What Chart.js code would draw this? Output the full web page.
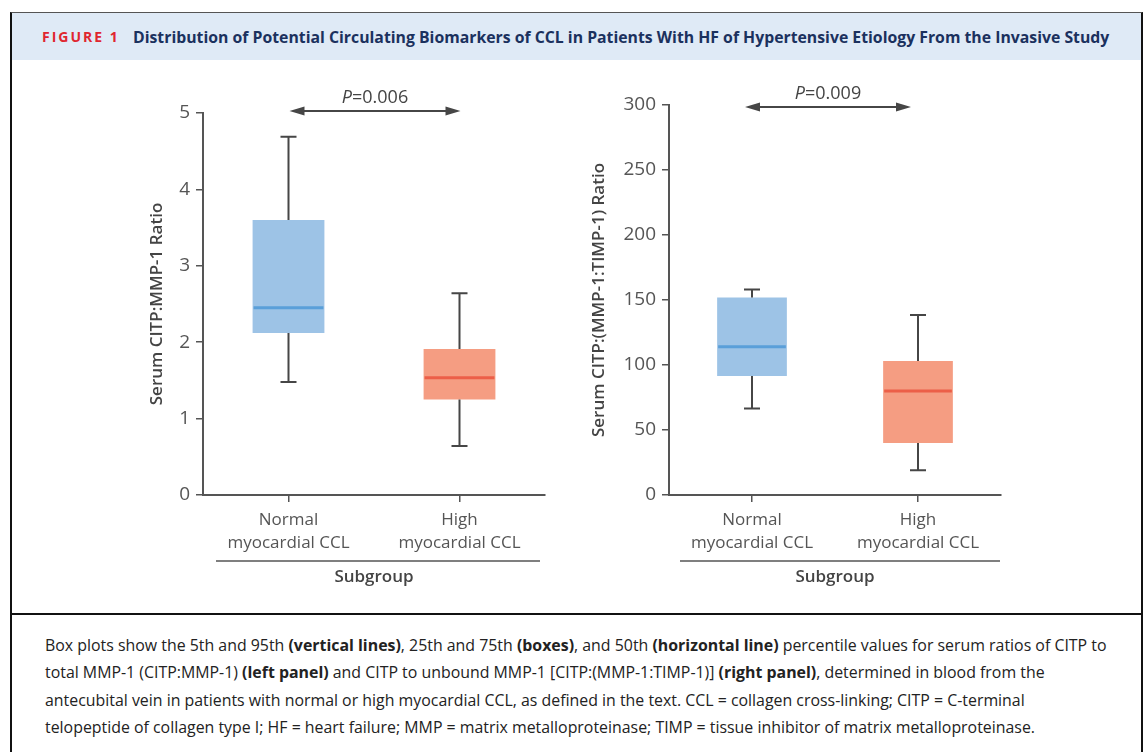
<!DOCTYPE html>
<html>
<head>
<meta charset="utf-8">
<script src="https://cdn.jsdelivr.net/npm/chart.js@4"></script>
<style>
body { margin: 0; background: #fff; width: 1147px; height: 752px; overflow: hidden; position: relative; font-family: "Open Sans", sans-serif; }
.frame { position: absolute; left: 10px; top: 12px; width: 1129px; height: 760px; border-left: 2px solid #111; border-right: 2px solid #111; border-top: 1.5px solid #555; }
.band { position: absolute; left: 12px; top: 13px; width: 1129px; height: 47px; background: #dfeaf6; }
.fig { position: absolute; left: 42px; top: 27px; font: 700 14px "Open Sans", sans-serif; color: #e0262f; letter-spacing: 2px; }
.title { position: absolute; left: 133px; top: 26px; font: 700 15.8px "Open Sans", sans-serif; color: #1b315e; white-space: nowrap; }
.sep { position: absolute; left: 12px; top: 613px; width: 1129px; height: 2px; background: #111; }
.cap { position: absolute; left: 45px; font: 15.9px "Open Sans", sans-serif; color: #222; white-space: nowrap; }
canvas { position: absolute; }
</style>
</head>
<body>
<div class="frame"></div>
<div class="band"></div>
<div class="fig">FIGURE 1</div>
<div class="title">Distribution of Potential Circulating Biomarkers of CCL in Patients With HF of Hypertensive Etiology From the Invasive Study</div>

<canvas id="leftChart" style="left:130px;top:62px" width="420" height="530"></canvas>
<canvas id="rightChart" style="left:570px;top:62px" width="440" height="530"></canvas>

<div class="sep"></div>
<div class="cap" style="top:634px">Box plots show the 5th and 95th <b>(vertical lines)</b>, 25th and 75th <b>(boxes)</b>, and 50th <b>(horizontal line)</b> percentile values for serum ratios of CITP to</div>
<div class="cap" style="top:661px">total MMP-1 (CITP:MMP-1) <b>(left panel)</b> and CITP to unbound MMP-1 [CITP:(MMP-1:TIMP-1)] <b>(right panel)</b>, determined in blood from the</div>
<div class="cap" style="top:689px">antecubital vein in patients with normal or high myocardial CCL, as defined in the text. CCL = collagen cross-linking; CITP = C-terminal</div>
<div class="cap" style="top:716px">telopeptide of collagen type I; HF = heart failure; MMP = matrix metalloproteinase; TIMP = tissue inhibitor of matrix metalloproteinase.</div>

<script>
const groups = [['Normal', 'myocardial CCL'], ['High', 'myocardial CCL']]

// left panel: CITP:MMP-1 ratio (5th, 25th, 50th, 75th, 95th)
const leftP5 = [1.48, 0.64]
const leftQ1 = [2.12, 1.25]
const leftMedian = [2.45, 1.535]
const leftQ3 = [3.6, 1.91]
const leftP95 = [4.69, 2.64]
const leftTicks = { min: 0, max: 5, step: 1 }

// right panel: CITP:(MMP-1:TIMP-1) ratio
const rightP5 = [66.5, 19]
const rightQ1 = [91.5, 40]
const rightMedian = [114, 80]
const rightQ3 = [152, 103]
const rightP95 = [158, 138.5]
const rightTicks = { min: 0, max: 300, step: 50 }

const boxColors = ['#9dc3e6', '#f59d82']
const medianColors = ['#5a9fd9', '#ec5f48']
const inkColor = '#464646'
const axisColor = '#555'

const boxExtras = {
    id: 'boxExtras',
    afterDatasetsDraw(chart, args, opts) {
        const ctx = chart.ctx
        const x = chart.scales.x
        const y = chart.scales.y
        const area = chart.chartArea
        ctx.save()
        for (let i = 0; i < opts.median.length; i++) {
            const cx = x.getPixelForValue(i)
            const bar = chart.getDatasetMeta(0).data[i]
            const half = bar.width / 2
            // whiskers
            ctx.strokeStyle = inkColor
            ctx.lineWidth = 2
            ctx.beginPath()
            ctx.moveTo(cx, y.getPixelForValue(opts.q3[i]))
            ctx.lineTo(cx, y.getPixelForValue(opts.hi[i]))
            ctx.moveTo(cx, y.getPixelForValue(opts.q1[i]))
            ctx.lineTo(cx, y.getPixelForValue(opts.lo[i]))
            ctx.moveTo(cx - 8, y.getPixelForValue(opts.hi[i]))
            ctx.lineTo(cx + 8, y.getPixelForValue(opts.hi[i]))
            ctx.moveTo(cx - 8, y.getPixelForValue(opts.lo[i]))
            ctx.lineTo(cx + 8, y.getPixelForValue(opts.lo[i]))
            ctx.stroke()
            // median
            ctx.strokeStyle = medianColors[i]
            ctx.lineWidth = 3
            ctx.beginPath()
            ctx.moveTo(cx - half + 1, y.getPixelForValue(opts.median[i]))
            ctx.lineTo(cx + half - 1, y.getPixelForValue(opts.median[i]))
            ctx.stroke()
        }

        // P-value arrow
        const ax1 = x.getPixelForValue(0) + opts.arrowDx
        const ax2 = x.getPixelForValue(1) + opts.arrowDx
        const ay = area.top + opts.arrowDy
        ctx.strokeStyle = inkColor
        ctx.fillStyle = inkColor
        ctx.lineWidth = 2
        ctx.beginPath()
        ctx.moveTo(ax1 + 10, ay)
        ctx.lineTo(ax2 - 10, ay)
        ctx.stroke()
        ctx.beginPath()
        ctx.moveTo(ax1, ay)
        ctx.lineTo(ax1 + 15, ay - 4.5)
        ctx.lineTo(ax1 + 15, ay + 4.5)
        ctx.closePath()
        ctx.moveTo(ax2, ay)
        ctx.lineTo(ax2 - 15, ay - 4.5)
        ctx.lineTo(ax2 - 15, ay + 4.5)
        ctx.closePath()
        ctx.fill()

        const mid = (ax1 + ax2) / 2
        ctx.textBaseline = 'middle'
        ctx.textAlign = 'left'
        ctx.fillStyle = '#444'
        ctx.font = 'italic 18px "Open Sans"'
        const wP = ctx.measureText('P').width
        ctx.font = '18px "Open Sans"'
        const wRest = ctx.measureText('=' + opts.pText).width
        const tx = mid - (wP + wRest) / 2
        ctx.font = 'italic 18px "Open Sans"'
        ctx.fillText('P', tx, ay - 13)
        ctx.font = '18px "Open Sans"'
        ctx.fillText('=' + opts.pText, tx + wP, ay - 13)

        // line above "Subgroup"
        ctx.strokeStyle = axisColor
        ctx.lineWidth = 1.5
        ctx.beginPath()
        ctx.moveTo(area.left + opts.lineL, area.bottom + 66)
        ctx.lineTo(area.right + opts.lineR, area.bottom + 66)
        ctx.stroke()
        ctx.restore()
    }
}

const makeBoxChart = (id, q1, q3, median, lo, hi, ticks, yTitle, extras, axisWidth, padTop, padRight, titlePad) => {
    return new Chart(document.getElementById(id), {
        type: 'bar',
        data: {
            labels: groups,
            datasets: [{
                data: q1.map((v, i) => [v, q3[i]]),
                backgroundColor: boxColors,
                borderWidth: 0,
                barPercentage: 0.42,
                categoryPercentage: 1
            }]
        },
        options: {
            responsive: false,
            animation: false,
            layout: { padding: { top: padTop, right: padRight, left: 0, bottom: 0 } },
            plugins: {
                legend: { display: false },
                tooltip: { enabled: false },
                boxExtras: Object.assign({ q1: q1, q3: q3, median: median, lo: lo, hi: hi }, extras)
            },
            scales: {
                x: {
                    grid: { offset: false, drawOnChartArea: false, tickLength: 7, color: axisColor, lineWidth: 1.5 },
                    border: { color: axisColor, width: 2 },
                    ticks: { color: '#555', font: { family: 'Open Sans', size: 17, lineHeight: 1.35 }, padding: 7, maxRotation: 0 },
                    title: { display: true, text: 'Subgroup', color: '#444', font: { family: 'Open Sans', size: 17, weight: '600' }, padding: { bottom: 5, top: 0 } },
                    afterFit: (scale) => { scale.height = 97 }
                },
                y: {
                    min: ticks.min,
                    max: ticks.max,
                    grid: { drawOnChartArea: false, tickLength: 7, color: axisColor, lineWidth: 1.5 },
                    border: { color: axisColor, width: 2 },
                    ticks: { stepSize: ticks.step, color: '#555', font: { family: 'Open Sans', size: 19 }, padding: 6 },
                    title: { display: true, text: yTitle, color: '#444', font: { family: 'Open Sans', size: 17, weight: '600' }, padding: { top: titlePad, bottom: 0 } },
                    afterFit: (scale) => { scale.width = axisWidth }
                }
            }
        },
        plugins: [boxExtras]
    })
}

makeBoxChart('leftChart', leftQ1, leftQ3, leftMedian, leftP5, leftP95, leftTicks,
    'Serum CITP:MMP-1 Ratio',
    { pText: '0.006', arrowDx: 1, arrowDy: -2, lineL: 13, lineR: -5 },
    73, 51, 5, 17)

makeBoxChart('rightChart', rightQ1, rightQ3, rightMedian, rightP5, rightP95, rightTicks,
    'Serum CITP:(MMP-1:TIMP-1) Ratio',
    { pText: '0.009', arrowDx: -7, arrowDy: 2, lineL: 11, lineR: -1 },
    99, 43, 9, 19)
</script>
</body>
</html>
